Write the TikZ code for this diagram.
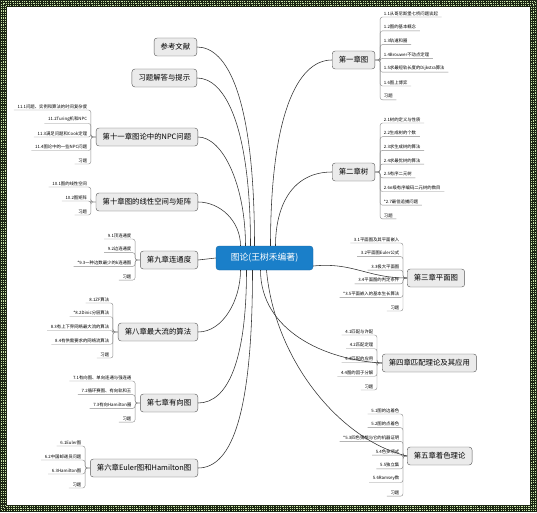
\documentclass[tikz,border=0pt]{standalone}
\usepackage{fontspec}
\setmainfont{Noto Sans CJK SC}
\usetikzlibrary{calc}
\definecolor{rootblue}{HTML}{1A7FC9}
\definecolor{chapfill}{HTML}{EBEBEB}
\definecolor{chapline}{HTML}{5A5A5A}
\definecolor{frameg}{HTML}{1C2614}
\definecolor{framedot}{HTML}{C9E3A8}
\begin{document}
\begin{tikzpicture}[x=0.5mm,y=-0.5mm,
    topic/.style={fill=rootblue,draw=rootblue!80!black,rounded corners=1.5mm,text=white,font=\fontsize{12.5}{14}\selectfont,minimum width=48.5mm,minimum height=12mm},
    chapter/.style={fill=chapfill,draw=chapline,line width=0.6pt,rounded corners=1.5mm,font=\fontsize{10.5}{12}\selectfont,minimum height=9mm,inner xsep=3.3mm},
    leaf/.style={font=\fontsize{6.2}{7}\selectfont,inner xsep=1.8mm,inner ysep=0.7mm},
    link/.style={draw=black!80,line width=0.8pt},
    branch/.style={draw=black!45,line width=0.6pt,rounded corners=1.2mm}]
    \fill[frameg] (0,0) rectangle (537,512);
    \fill[white] (7,7) rectangle (530,505);
    \foreach \d in {1.2,3.5,5.8}
    \draw[framedot,line width=1.5pt,dash pattern=on 1.6pt off 1.7pt] (\d,\d) rectangle (537-\d,512-\d);
    \useasboundingbox (0,0) rectangle (537,512);

    \node[topic] (root) at (264.5,258) {图论(王树禾编著)};

    \node[chapter,anchor=east] (ref) at (197,47) {参考文献};
    \node[chapter,anchor=east] (hint) at (197,78) {习题解答与提示};

    \node[chapter,anchor=west] (ch1) at (332,60) {第一章图};
    \coordinate (j1) at ($(ch1.east)+(5,0)$);
    \foreach \txt [count=\i, evaluate=\i as \y using 17+13.8*(\i-1)] in {1.1从哥尼斯堡七桥问题谈起,1.2图的基本概念,1.3轨道和圈,1.4Brouwer不动点定理,1.5求最短轨长度的Dijkstra算法,1.6图上博弈,习题}{
      \node[leaf,anchor=south west] (ch1-\i) at (j1 |- 0,\y) {\txt};
      \draw[branch] (ch1.east) -- (j1) |- (ch1-\i.south east);
    }

    \node[chapter,anchor=west] (ch2) at (332,172) {第二章树};
    \coordinate (j2) at ($(ch2.east)+(5,0)$);
    \foreach \txt [count=\i, evaluate=\i as \y using 123+13.7*(\i-1)] in {2.1树的定义与性质,2.2生成树的个数,2.3求生成树的算法,2.4求最优树的算法,2.5有序二元树,2.6n级有序编码二元树的数目,*2.7最佳追捕问题,习题}{
      \node[leaf,anchor=south west] (ch2-\i) at (j2 |- 0,\y) {\txt};
      \draw[branch] (ch2.east) -- (j2) |- (ch2-\i.south east);
    }

    \node[chapter,anchor=west] (ch3) at (407,278) {第三章平面图};
    \coordinate (j3) at ($(ch3.west)+(-4,0)$);
    \foreach \txt [count=\i, evaluate=\i as \y using 243+13.6*(\i-1)] in {3.1平面图及其平面嵌入,3.2平面图Euler公式,3.3极大平面图,3.4平面图的判定条件,*3.5平面嵌入的基本生长算法,习题}{
      \node[leaf,anchor=south east] (ch3-\i) at (j3 |- 0,\y) {\txt};
      \draw[branch] (ch3.west) -- (j3) |- (ch3-\i.south west);
    }

    \node[chapter,anchor=west] (ch4) at (382,363) {第四章匹配理论及其应用};
    \coordinate (j4) at ($(ch4.west)+(-5,0)$);
    \foreach \txt [count=\i, evaluate=\i as \y using 335+13.75*(\i-1)] in {4.1匹配与许配,4.2匹配定理,4.3匹配的应用,4.4图的因子分解,习题}{
      \node[leaf,anchor=south east] (ch4-\i) at (j4 |- 0,\y) {\txt};
      \draw[branch] (ch4.west) -- (j4) |- (ch4-\i.south west);
    }

    \node[chapter,anchor=west] (ch5) at (407,456) {第五章着色理论};
    \coordinate (j5) at ($(ch5.west)+(-4,0)$);
    \foreach \txt [count=\i, evaluate=\i as \y using 414+13.7*(\i-1)] in {5.1图的边着色,5.2图的点着色,*5.3四色猜想与它的机器证明,5.4色多项式,5.5独立集,5.6Ramsey数,习题}{
      \node[leaf,anchor=south east] (ch5-\i) at (j5 |- 0,\y) {\txt};
      \draw[branch] (ch5.west) -- (j5) |- (ch5-\i.south west);
    }

    \node[chapter,anchor=east] (ch6) at (198,468) {第六章Euler图和Hamilton图};
    \coordinate (j6) at ($(ch6.west)+(-5,0)$);
    \foreach \txt [count=\i, evaluate=\i as \y using 446+14*(\i-1)] in {6.1Euler图,6.2中国邮递员问题,6.3Hamilton图,习题}{
      \node[leaf,anchor=south east] (ch6-\i) at (j6 |- 0,\y) {\txt};
      \draw[branch] (ch6.west) -- (j6) |- (ch6-\i.south west);
    }

    \node[chapter,anchor=east] (ch7) at (198,403) {第七章有向图};
    \coordinate (j7) at ($(ch7.west)+(-5,0)$);
    \foreach \txt [count=\i, evaluate=\i as \y using 381+13.7*(\i-1)] in {7.1有向图、单向连通与强连通,7.2循环赛图、有向轨和王,7.3有向Hamilton圈,习题}{
      \node[leaf,anchor=south east] (ch7-\i) at (j7 |- 0,\y) {\txt};
      \draw[branch] (ch7.west) -- (j7) |- (ch7-\i.south west);
    }

    \node[chapter,anchor=east] (ch8) at (198,332) {第八章最大流的算法};
    \coordinate (j8) at ($(ch8.west)+(-5,0)$);
    \foreach \txt [count=\i, evaluate=\i as \y using 303+13.75*(\i-1)] in {8.1ZF算法,*8.2Dinic分层算法,8.3有上下界网络最大流的算法,8.4有供需要求的网络流算法,习题}{
      \node[leaf,anchor=south east] (ch8-\i) at (j8 |- 0,\y) {\txt};
      \draw[branch] (ch8.west) -- (j8) |- (ch8-\i.south west);
    }

    \node[chapter,anchor=east] (ch9) at (198,260) {第九章连通度};
    \coordinate (j9) at ($(ch9.west)+(-5,0)$);
    \foreach \txt [count=\i, evaluate=\i as \y using 239+13.7*(\i-1)] in {9.1顶连通度,9.2边连通度,*9.3一种边数最少的k连通图,习题}{
      \node[leaf,anchor=south east] (ch9-\i) at (j9 |- 0,\y) {\txt};
      \draw[branch] (ch9.west) -- (j9) |- (ch9-\i.south west);
    }

    \node[chapter,anchor=east] (ch10) at (198,202) {第十章图的线性空间与矩阵};
    \coordinate (j10) at ($(ch10.west)+(-5,0)$);
    \foreach \txt [count=\i, evaluate=\i as \y using 187+14*(\i-1)] in {10.1图的线性空间,10.2图矩阵,习题}{
      \node[leaf,anchor=south east] (ch10-\i) at (j10 |- 0,\y) {\txt};
      \draw[branch] (ch10.west) -- (j10) |- (ch10-\i.south west);
    }

    \node[chapter,anchor=east] (ch11) at (198,137) {第十一章图论中的NPC问题};
    \coordinate (j11) at ($(ch11.west)+(-5,0)$);
    \foreach \txt [count=\i, evaluate=\i as \y using 110+13.5*(\i-1)] in {11.1问题、实例和算法的时间复杂度,11.2Turing机和NPC,11.3满足问题和Cook定理,11.4图论中的一些NPC问题,习题}{
      \node[leaf,anchor=south east] (ch11-\i) at (j11 |- 0,\y) {\txt};
      \draw[branch] (ch11.west) -- (j11) |- (ch11-\i.south west);
    }

    \draw[link] (ref.east) .. controls +(30,0) and +(0,-150) .. ($(root.north)+(-10,0)$);
    \draw[link] (hint.east) .. controls +(28,0) and +(0,-120) .. ($(root.north)+(-14,0)$);
    \draw[link] (ch11.east) .. controls +(25,0) and +(0,-60) .. ($(root.north)+(-19,0)$);
    \draw[link] (ch10.east) .. controls +(22,0) and +(0,-25) .. ($(root.north)+(-24,0)$);
    \draw[link] (ch1.west) .. controls +(-35,0) and +(0,-130) .. ($(root.north)+(6,0)$);
    \draw[link] (ch2.west) .. controls +(-40,0) and +(0,-40) .. ($(root.north)+(11,0)$);
    \draw[link] (ch9.east) -- (root.west);
    \draw[link] (ch3.west) .. controls +(-40,0) and +(40,-4) .. ($(root.east)+(0,8)$);
    \draw[link] (ch8.east) .. controls +(25,0) and +(0,30) .. ($(root.south)+(-24,0)$);
    \draw[link] (ch7.east) .. controls +(30,0) and +(0,90) .. ($(root.south)+(-18,0)$);
    \draw[link] (ch6.east) .. controls +(35,0) and +(0,140) .. ($(root.south)+(-12,0)$);
    \draw[link] (ch4.west) .. controls +(-58,-3) and +(0,60) .. ($(root.south)+(-4,0)$);
    \draw[link] (ch5.west) .. controls +(-67,-16) and +(8,90) .. ($(root.south)+(2,0)$);
  \end{tikzpicture}
\end{document}
